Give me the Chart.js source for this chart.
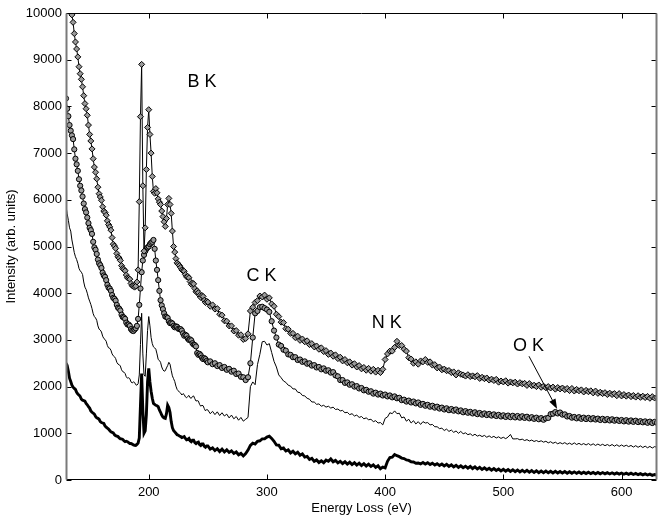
<!DOCTYPE html>
<html>
<head>
<meta charset="utf-8">
<script src="https://cdn.jsdelivr.net/npm/chart.js@4.4.1/dist/chart.umd.min.js"></script>
<style>
html,body{margin:0;padding:0;background:#fff;}
canvas{display:block;}
</style>
</head>
<body>
<canvas id="c" width="664" height="518" style="width:664px;height:518px"></canvas>
<script>
// Energy loss (eV): 1 eV steps up to 249, then 2 eV steps
const energy = [
130,131,132,133,134,135,136,137,138,139,
140,141,142,143,144,145,146,147,148,149,
150,151,152,153,154,155,156,157,158,159,
160,161,162,163,164,165,166,167,168,169,
170,171,172,173,174,175,176,177,178,179,
180,181,182,183,184,185,186,187,188,189,
190,191,192,193,194,195,196,197,198,199,
200,201,202,203,204,205,206,207,208,209,
210,211,212,213,214,215,216,217,218,219,
220,221,222,223,224,225,226,227,228,229,
230,231,232,233,234,235,236,237,238,239,
240,241,242,243,244,245,246,247,248,249,
250,252,254,256,258,260,262,264,266,268,
270,272,274,276,278,280,282,284,286,288,
290,292,294,296,298,300,302,304,306,308,
310,312,314,316,318,320,322,324,326,328,
330,332,334,336,338,340,342,344,346,348,
350,352,354,356,358,360,362,364,366,368,
370,372,374,376,378,380,382,384,386,388,
390,392,394,396,398,400,402,404,406,408,
410,412,414,416,418,420,422,424,426,428,
430,432,434,436,438,440,442,444,446,448,
450,452,454,456,458,460,462,464,466,468,
470,472,474,476,478,480,482,484,486,488,
490,492,494,496,498,500,502,504,506,508,
510,512,514,516,518,520,522,524,526,528,
530,532,534,536,538,540,542,544,546,548,
550,552,554,556,558,560,562,564,566,568,
570,572,574,576,578,580,582,584,586,588,
590,592,594,596,598,600,602,604,606,608,
610,612,614,616,618,620,622,624,626,628,
630];

// Spectrum 1 (diamond markers, top)
const spectrumA = [
10900,10700,10540,10300,10120,9960,9800,9560,9380,9230,
9060,8850,8700,8580,8420,8230,8060,7950,7810,7600,
7400,7260,7090,6880,6700,6590,6450,6270,6130,6060,
5990,5850,5760,5730,5670,5550,5470,5420,5350,5190,
5050,5010,4960,4850,4780,4750,4700,4590,4530,4510,
4480,4390,4330,4320,4300,4210,4160,4150,4130,4150,
4240,4500,5960,7780,8900,6300,4900,5400,6650,7550,
7930,7400,7000,6500,6180,6140,6240,6150,6020,5950,
5900,5760,5640,5530,5430,5600,5900,6030,5900,5710,
5330,5000,4880,4740,4650,4620,4590,4550,4500,4480,
4470,4400,4350,4360,4330,4250,4190,4220,4200,4100,
4030,4050,4010,3950,3910,3950,3930,3850,3800,3830,
3810,3720,3750,3660,3670,3550,3530,3410,3400,3300,
3300,3190,3200,3100,3110,3010,3030,3130,3620,3700,
3800,3840,3940,3920,3960,3870,3900,3770,3720,3550,
3500,3380,3370,3240,3230,3140,3140,3050,3080,2990,
3020,2960,2980,2900,2920,2850,2870,2800,2830,2750,
2770,2690,2720,2650,2680,2600,2630,2550,2580,2510,
2530,2460,2490,2420,2450,2380,2410,2350,2390,2330,
2370,2310,2350,2300,2370,2580,2700,2760,2760,2840,
2970,2880,2880,2800,2760,2620,2590,2500,2530,2480,
2550,2530,2580,2520,2530,2460,2470,2400,2420,2360,
2375,2340,2345,2300,2315,2250,2295,2265,2250,2225,
2255,2215,2230,2210,2235,2175,2200,2170,2185,2140,
2160,2130,2155,2095,2120,2100,2125,2075,2100,2080,
2095,2055,2085,2060,2070,2025,2065,2020,2030,2000,
2035,1985,2010,1975,2000,1970,1990,1945,1980,1950,
1970,1935,1960,1915,1960,1905,1940,1910,1930,1885,
1920,1890,1910,1865,1905,1855,1880,1850,1870,1830,
1860,1830,1850,1805,1850,1800,1830,1795,1820,1785,
1810,1775,1805,1770,1795,1765,1790,1750,1785,1755,
1765];

// Spectrum 2 (circle markers)
const spectrumB = [
8170,7950,7790,7600,7480,7380,7300,7080,6880,6760,
6620,6440,6300,6200,6070,5920,5800,5730,5620,5500,
5400,5350,5270,5100,4980,4930,4840,4720,4640,4600,
4540,4440,4380,4350,4280,4180,4120,4100,4050,3960,
3900,3880,3840,3750,3690,3670,3630,3540,3490,3480,
3450,3370,3330,3330,3300,3230,3200,3190,3220,3250,
3300,3450,3750,4100,4450,4700,4820,4900,4950,4980,
5000,5050,5080,5100,5140,4950,4700,4500,4280,4050,
3850,3740,3660,3570,3500,3490,3470,3400,3360,3370,
3350,3300,3270,3290,3280,3240,3230,3230,3200,3140,
3090,3110,3090,3030,3000,3010,2990,2930,2900,2890,
2860,2720,2680,2700,2670,2620,2590,2610,2590,2550,
2520,2540,2480,2500,2440,2460,2400,2420,2360,2380,
2320,2340,2270,2280,2210,2200,2140,2200,2500,3050,
3570,3620,3700,3710,3680,3650,3600,3400,3200,3050,
2900,2870,2790,2770,2690,2680,2630,2630,2570,2580,
2530,2540,2490,2500,2450,2460,2410,2420,2370,2390,
2340,2350,2300,2310,2240,2220,2140,2140,2080,2090,
2040,2050,2000,2010,1960,1970,1920,1930,1890,1900,
1850,1870,1830,1850,1810,1830,1790,1810,1770,1790,
1750,1760,1710,1720,1680,1700,1660,1680,1640,1660,
1610,1630,1590,1610,1570,1590,1550,1570,1530,1550,
1510,1535,1495,1520,1485,1510,1470,1490,1450,1475,
1440,1460,1425,1450,1410,1435,1400,1425,1390,1415,
1380,1405,1370,1395,1360,1385,1350,1380,1345,1375,
1340,1370,1335,1365,1330,1355,1320,1345,1310,1335,
1300,1325,1290,1320,1330,1410,1420,1455,1425,1445,
1400,1405,1360,1370,1335,1350,1320,1345,1310,1335,
1305,1330,1300,1325,1295,1315,1285,1310,1280,1305,
1275,1300,1270,1290,1265,1285,1255,1280,1250,1275,
1245,1270,1240,1260,1235,1255,1225,1250,1220,1245,
1225];

// Spectrum 3 (thin line)
const spectrumC = [
5870,5700,5560,5400,5330,5140,5010,4870,4780,4720,
4640,4530,4480,4450,4400,4240,4130,4080,4000,3900,
3830,3760,3670,3560,3500,3470,3420,3300,3230,3210,
3170,3080,3030,3010,2970,2880,2830,2820,2780,2700,
2660,2640,2600,2520,2480,2470,2440,2360,2320,2310,
2280,2210,2180,2190,2170,2100,2080,2100,2090,2040,
2030,2060,2250,2900,3570,2700,2250,2220,2700,3200,
3500,3300,3050,2920,2850,2830,2800,2700,2580,2560,
2520,2420,2360,2330,2340,2400,2450,2520,2480,2350,
2230,2170,2110,2010,1940,1910,1880,1860,1820,1850,
1830,1780,1760,1790,1810,1760,1750,1790,1800,1740,
1690,1700,1690,1620,1580,1600,1590,1530,1480,1510,
1500,1420,1470,1400,1460,1380,1440,1370,1410,1330,
1390,1310,1360,1280,1340,1260,1300,1340,2000,2100,
2040,2470,2690,2960,2970,2890,2920,2730,2540,2420,
2250,2190,2120,2090,2030,2010,1950,1950,1880,1870,
1810,1800,1750,1730,1670,1670,1620,1630,1580,1600,
1560,1580,1540,1560,1510,1520,1480,1490,1440,1450,
1400,1420,1370,1390,1340,1360,1310,1330,1290,1300,
1250,1270,1220,1230,1180,1320,1350,1440,1420,1480,
1420,1430,1330,1350,1260,1300,1220,1270,1200,1250,
1190,1250,1220,1230,1180,1190,1140,1140,1100,1110,
1060,1090,1040,1070,1020,1050,1000,1040,990,1010,
970,990,950,980,940,960,930,955,915,945,
910,935,900,925,890,915,885,920,975,880,
880,885,860,875,845,865,835,855,825,845,
820,840,810,830,795,820,785,810,775,800,
775,800,765,790,760,795,760,785,755,780,
750,780,745,775,740,770,740,765,735,760,
730,760,725,755,720,750,720,745,715,740,
705,735,700,730,695,725,690,720,685,715,
700];

// Spectrum 4 (thick line, bottom)
const spectrumD = [
2500,2450,2330,2180,2110,2030,1990,1960,1940,1880,
1840,1820,1790,1730,1710,1700,1690,1640,1610,1570,
1540,1480,1450,1430,1410,1360,1330,1320,1300,1250,
1230,1220,1210,1160,1130,1110,1090,1060,1030,1020,
1010,970,950,940,930,900,880,880,870,840,
820,830,820,800,780,780,770,750,745,740,
760,790,900,1600,2280,1500,1000,1050,1400,2100,
2390,2100,1900,1750,1640,1620,1600,1590,1570,1500,
1450,1390,1350,1330,1320,1420,1600,1550,1450,1250,
1120,1060,1030,1000,970,960,940,930,910,920,
930,890,860,870,890,840,820,850,850,800,
780,800,810,760,740,770,770,720,700,730,
730,660,690,630,670,610,660,600,645,590,
625,570,600,540,570,515,565,640,740,790,
770,830,840,880,880,920,940,890,830,750,
745,670,685,620,645,580,615,560,595,530,
560,490,505,440,465,400,430,375,410,370,
425,400,450,390,420,365,400,350,390,340,
380,330,370,320,360,310,350,300,340,290,
325,270,305,240,275,260,400,480,490,545,
520,500,470,460,430,420,390,385,360,365,
345,375,340,370,330,360,320,350,310,340,
300,335,290,325,280,315,270,305,265,295,
255,290,245,280,235,270,225,260,220,250,
210,245,205,235,195,230,190,225,185,220,
180,215,175,210,170,205,165,200,160,195,
158,192,156,190,154,188,152,185,150,183,
148,180,146,177,144,174,142,171,140,168,
138,166,136,163,134,161,133,159,131,157,
130,155,128,152,126,150,124,147,122,145,
118,140,114,135,110,130,106,125,100,118,
105];

const xTickValues = [200, 300, 400, 500, 600];
const edgeLabels = [
  {text: 'B K', x: 245, y: 8520},
  {text: 'C K', x: 295.5, y: 4360},
  {text: 'N K', x: 401.4, y: 3360},
  {text: 'O K', x: 521.2, y: 2860}
];
const arrowFrom = {x: 521.7, y: 2650};
const arrowTo = {x: 545.5, y: 1520};

const FONT = '"Liberation Sans", Arial, Helvetica, sans-serif';

function pts(arr){ return energy.map((e,i)=>({x:e, y:arr[i]})); }

const frameTicks = {
  id: 'frameTicks',
  afterDraw(chart){
    const {ctx, chartArea:a, scales:{x, y}} = chart;
    ctx.save();
    const L = Math.round(a.left)+0.5, R = Math.round(a.right)-0.5;
    const T = Math.round(a.top)+0.5, B = Math.round(a.bottom)-0.5;
    const tl = 5;
    ctx.strokeStyle = '#000';
    ctx.lineWidth = 1;
    ctx.beginPath();
    x.ticks.forEach(t=>{
      const px = Math.round(x.getPixelForValue(t.value))+0.5;
      ctx.moveTo(px, B); ctx.lineTo(px, B-tl);
      ctx.moveTo(px, T); ctx.lineTo(px, T+tl);
    });
    y.ticks.forEach(t=>{
      const py = Math.round(y.getPixelForValue(t.value))+0.5;
      ctx.moveTo(L, py); ctx.lineTo(L+tl, py);
      ctx.moveTo(R, py); ctx.lineTo(R-tl, py);
    });
    ctx.stroke();
    ctx.beginPath();
    ctx.moveTo(L, T); ctx.lineTo(R, T);
    ctx.moveTo(L, B); ctx.lineTo(R, B);
    ctx.stroke();
    ctx.strokeStyle = '#7a7a7a';
    ctx.lineWidth = 2;
    ctx.beginPath();
    ctx.moveTo(L, T); ctx.lineTo(L, B);
    ctx.moveTo(R, T); ctx.lineTo(R, B);
    ctx.stroke();
    ctx.fillStyle = '#000';
    ctx.font = '18px ' + FONT;
    ctx.textAlign = 'center';
    ctx.textBaseline = 'middle';
    edgeLabels.forEach(l=>{
      ctx.fillText(l.text, x.getPixelForValue(l.x), y.getPixelForValue(l.y));
    });
    const x1 = x.getPixelForValue(arrowFrom.x), y1 = y.getPixelForValue(arrowFrom.y);
    const x2 = x.getPixelForValue(arrowTo.x), y2 = y.getPixelForValue(arrowTo.y);
    const ang = Math.atan2(y2-y1, x2-x1);
    const hl = 10, hw = 3.5;
    ctx.strokeStyle = '#000';
    ctx.lineWidth = 1;
    ctx.beginPath();
    ctx.moveTo(x1, y1);
    ctx.lineTo(x2 - hl*Math.cos(ang)*0.6, y2 - hl*Math.sin(ang)*0.6);
    ctx.stroke();
    ctx.beginPath();
    ctx.moveTo(x2, y2);
    ctx.lineTo(x2 - hl*Math.cos(ang) + hw*Math.sin(ang), y2 - hl*Math.sin(ang) - hw*Math.cos(ang));
    ctx.lineTo(x2 - hl*Math.cos(ang) - hw*Math.sin(ang), y2 - hl*Math.sin(ang) + hw*Math.cos(ang));
    ctx.closePath();
    ctx.fill();
    ctx.restore();
  }
};

new Chart(document.getElementById('c'), {
  type: 'line',
  data: {
    datasets: [
      {data: pts(spectrumA), borderColor:'#000', borderWidth:1, pointStyle:'rectRot', pointRadius:3, pointBorderWidth:1, pointBorderColor:'#000', pointBackgroundColor:'#9a9a9a', tension:0},
      {data: pts(spectrumB), borderColor:'#000', borderWidth:1, pointStyle:'circle', pointRadius:2.6, pointBorderWidth:1, pointBorderColor:'#000', pointBackgroundColor:'#9a9a9a', tension:0},
      {data: pts(spectrumC), borderColor:'#000', borderWidth:1, pointRadius:0, tension:0},
      {data: pts(spectrumD), borderColor:'#000', borderWidth:2.9, pointRadius:0, tension:0}
    ]
  },
  options: {
    responsive: false,
    animation: false,
    events: [],
    layout: {padding: {top: 13, right: 7, left: 0, bottom: 0}},
    plugins: {legend:{display:false}, tooltip:{enabled:false}},
    scales: {
      x: {
        type: 'linear', min: 130, max: 630,
        afterBuildTicks: s => { s.ticks = xTickValues.map(v=>({value:v})); },
        afterFit: s => { s.height = 38; },
        grid: {display:false, drawTicks:false},
        border: {display:false},
        ticks: {color:'#000', font:{family:FONT, size:13}, padding:5, maxRotation:0, callback: v => String(v)},
        title: {display:true, text:'Energy Loss (eV)', color:'#000', font:{family:FONT, size:13}, padding:{top:0, bottom:2}}
      },
      y: {
        type: 'linear', min: 0, max: 10000,
        ticks: {stepSize:1000, color:'#000', font:{family:FONT, size:13}, padding:4, callback: v => String(v)},
        afterFit: s => { s.width = 66; },
        grid: {display:false, drawTicks:false},
        border: {display:false},
        title: {display:true, text:'Intensity (arb. units)', color:'#000', font:{family:FONT, size:13}, padding:{top:4, bottom:0}}
      }
    }
  },
  plugins: [frameTicks]
});
</script>
</body>
</html>
